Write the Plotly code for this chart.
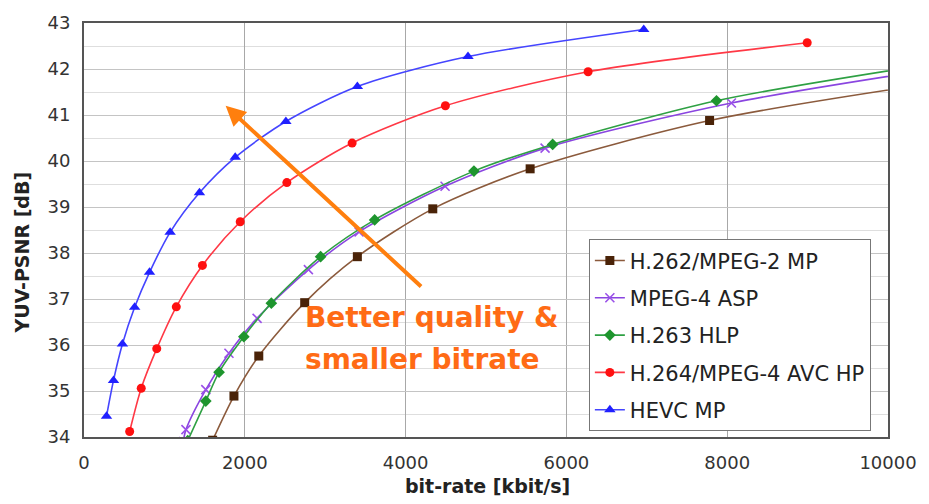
import plotly.graph_objects as go

# ---- data ----
h262_x = [1600, 1865, 2174, 2745, 3400, 4338, 5549, 7781, 10400]
h262_y = [33.93, 34.89, 35.76, 36.92, 37.92, 38.96, 39.83, 40.88, 41.65]

mpeg4_x = [1235, 1268, 1515, 1803, 2153, 2791, 3421, 4491, 5735, 8052, 10400]
mpeg4_y = [33.9, 34.16, 35.03, 35.82, 36.58, 37.64, 38.46, 39.45, 40.28, 41.26, 41.95]

h263_x = [1290, 1515, 1680, 1988, 2330, 2943, 3615, 4850, 5829, 7867, 10400]
h263_y = [33.92, 34.78, 35.41, 36.18, 36.91, 37.92, 38.72, 39.78, 40.36, 41.31, 42.07]

h264_x = [568, 712, 905, 1148, 1473, 1943, 2523, 3335, 4495, 6270, 8995]
h264_y = [34.12, 35.06, 35.92, 36.83, 37.73, 38.68, 39.53, 40.39, 41.20, 41.94, 42.57]

hevc_x = [280, 367, 478, 630, 815, 1071, 1436, 1881, 2511, 3400, 4776, 6962]
hevc_y = [34.45, 35.23, 36.02, 36.82, 37.58, 38.45, 39.31, 40.08, 40.86, 41.62, 42.27, 42.86]

series_names = ["H.262/MPEG-2 MP", "MPEG-4 ASP", "H.263 HLP", "H.264/MPEG-4 AVC HP", "HEVC MP"]
x_ticks = [0, 2000, 4000, 6000, 8000, 10000]
y_ticks = [34, 35, 36, 37, 38, 39, 40, 41, 42, 43]

arrow_tail = (4211, 37.24)
arrow_head = (1762, 41.2)
note_lines = ["Better quality &", "smaller bitrate"]

FONT = "DejaVu Sans"

styles = [
    dict(line="#8B5A3C", marker="#4A2308", symbol="square", size=9),
    dict(line="#8A45E0", marker="#9A50E8", symbol="x-thin", size=9),
    dict(line="#2EA043", marker="#1E952E", symbol="diamond", size=9),
    dict(line="#FF3845", marker="#FF1010", symbol="circle", size=9),
    dict(line="#4545FF", marker="#2020FF", symbol="triangle-up", size=10),
]
data = [(h262_x, h262_y), (mpeg4_x, mpeg4_y), (h263_x, h263_y),
        (h264_x, h264_y), (hevc_x, hevc_y)]

fig = go.Figure()
for i, ((xs, ys), name, st) in enumerate(zip(data, series_names, styles)):
    mk = dict(color=st["marker"], symbol=st["symbol"], size=st["size"])
    if st["symbol"] == "x-thin":
        mk["line"] = dict(color=st["marker"], width=1.6)
    fig.add_trace(go.Scatter(
        x=xs, y=ys, name=name, mode="lines+markers",
        line=dict(color=st["line"], width=1.6, shape="spline", smoothing=0.8),
        marker=mk, legendgroup=f"g{i}",
    ))

fig.update_layout(
    width=929, height=504,
    margin=dict(l=84, r=36, t=16, b=67),
    paper_bgcolor="white", plot_bgcolor="white",
    font=dict(family=FONT, color="#333333", size=18),
    showlegend=True,
    legend=dict(
        x=(592 - 84) / 809, y=(437 - 236) / 421, xanchor="left", yanchor="top",
        bgcolor="white", bordercolor="#777777", borderwidth=1,
        font=dict(family=FONT, size=21, color="#222222"),
        traceorder="grouped", tracegroupgap=7,
    ),
)
fig.update_xaxes(
    range=[0, 10000], tickvals=x_ticks, ticktext=[str(v) for v in x_ticks],
    showgrid=True, gridcolor="#A8A8A8", gridwidth=1,
    showline=True, linecolor="#555555", linewidth=2, mirror=True,
    ticks="outside", ticklen=8, tickcolor="rgba(0,0,0,0)",
    zeroline=False, tickfont=dict(size=18, color="#333333"),
)
fig.update_yaxes(
    range=[34, 43], tickvals=y_ticks, ticktext=[str(v) for v in y_ticks],
    showgrid=True, gridcolor="#C4C4C4", gridwidth=1,
    minor=dict(dtick=0.5, tick0=34, showgrid=True, gridcolor="#DEDEDE", gridwidth=1),
    showline=True, linecolor="#555555", linewidth=2, mirror=True,
    ticks="outside", ticklen=8, tickcolor="rgba(0,0,0,0)",
    zeroline=False, tickfont=dict(size=18, color="#333333"),
)

# arrow
fig.add_annotation(
    x=arrow_head[0], y=arrow_head[1], ax=arrow_tail[0], ay=arrow_tail[1],
    xref="x", yref="y", axref="x", ayref="y",
    showarrow=True, arrowhead=2, arrowsize=1, arrowwidth=4, arrowcolor="#FF7F0E",
    text="",
)
# note text
fig.add_annotation(x=2729, y=36.6, xref="x", yref="y", text=note_lines[0],
                   showarrow=False, xanchor="left", yanchor="middle",
                   font=dict(family=FONT, size=28, color="#FF6B15", weight="bold"))
fig.add_annotation(x=2729, y=35.68, xref="x", yref="y", text=note_lines[1],
                   showarrow=False, xanchor="left", yanchor="middle",
                   font=dict(family=FONT, size=28, color="#FF6B15", weight="bold"))
# axis titles
fig.add_annotation(x=(22 - 84) / 809, y=(437 - 249) / 421, xref="paper", yref="paper",
                   text="<b>YUV-PSNR [dB]</b>", textangle=-90, showarrow=False,
                   xanchor="center", yanchor="middle",
                   font=dict(family=FONT, size=19, color="#222222"))
fig.add_annotation(x=(490 - 84) / 809, y=(437 - 487) / 421, xref="paper", yref="paper",
                   text="<b>bit-rate [kbit/s]</b>", showarrow=False,
                   xanchor="center", yanchor="middle",
                   font=dict(family=FONT, size=19, color="#222222"))

fig.write_html("out.html", config={"displayModeBar": False},
               post_script="document.body.style.margin='0';")
